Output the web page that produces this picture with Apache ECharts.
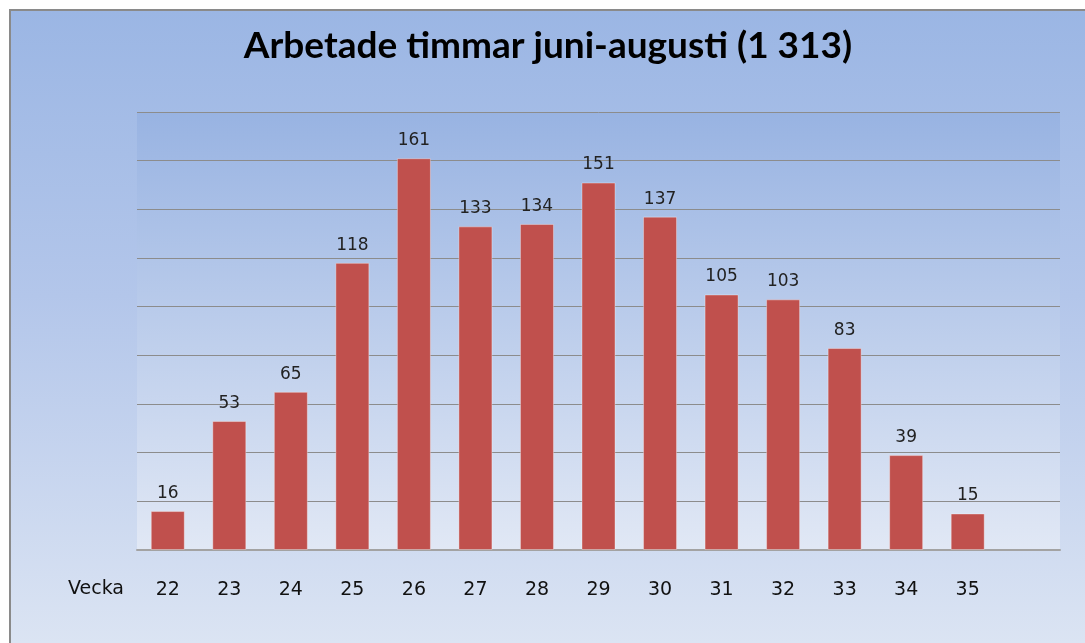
<!DOCTYPE html>
<html>
<head>
<meta charset="utf-8">
<script src="https://cdn.jsdelivr.net/npm/echarts@6/dist/echarts.min.js"></script>
<style>
  html, body { margin: 0; padding: 0; background: #fff; }
  #wrap {
    position: absolute; left: 9px; top: 9px; width: 1074px; height: 632px;
    border-left: 2px solid #8a8a8a; border-top: 2px solid #8a8a8a;
    background: linear-gradient(to bottom, #9bb6e4 0%, #b3c6ea 45%, #dbe4f3 100%);
  }
  #main { width: 1074px; height: 632px; }
</style>
</head>
<body>
<div id="wrap"><div id="main"></div></div>
<script>
// veckor och timmar
var weeks = ['22', '23', '24', '25', '26', '27', '28', '29', '30', '31', '32', '33', '34', '35'];
var hours = [16, 53, 65, 118, 161, 133, 134, 151, 137, 105, 103, 83, 39, 15];
var titleText = 'Arbetade timmar juni-augusti (1 313)';

var chart = echarts.init(document.getElementById('main'));
var option = {
  backgroundColor: 'transparent',
  animation: false,
  title: {
    text: titleText,
    left: 'center',
    top: 12,
    textStyle: { fontFamily: 'Lato', fontWeight: 'bold', fontSize: 37, color: '#000' }
  },
  // "Vecka" framfor axeln
  graphic: [{
    type: 'text', left: 57, top: 569,
    style: { text: 'Vecka', fontFamily: 'DejaVu Sans', fontSize: 19, fill: '#111' }
  }],
  grid: {
    left: 126, right: 25, top: 101, bottom: 93,
    show: true, borderWidth: 0,
    backgroundColor: {
      type: 'linear', x: 0, y: 0, x2: 0, y2: 1,
      colorStops: [{offset: 0, color: '#98b3e2'}, {offset: 1, color: '#e1e8f5'}]
    }
  },
  xAxis: {
    type: 'category',
    data: weeks.concat(['']),
    axisLine: { show: true, lineStyle: { color: '#a3a3a3', width: 2 } },
    axisTick: { show: false },
    axisLabel: { margin: 31, fontFamily: 'DejaVu Sans', fontSize: 19, color: '#111' }
  },
  yAxis: {
    type: 'value', min: 0, max: 180, interval: 20,
    axisLabel: { show: false },
    axisLine: { show: false },
    axisTick: { show: false },
    splitLine: { lineStyle: { color: '#8c8c8c', width: 1 } }
  },
  series: [{
    type: 'bar',
    data: hours,
    barWidth: 34,
    itemStyle: { color: '#c0504d', borderColor: 'rgba(255,255,255,0.35)', borderWidth: 1 },
    label: {
      show: true, position: 'top', distance: 9,
      fontFamily: 'DejaVu Sans', fontSize: 17, color: '#222'
    }
  }]
};
chart.setOption(option);
</script>
</body>
</html>
